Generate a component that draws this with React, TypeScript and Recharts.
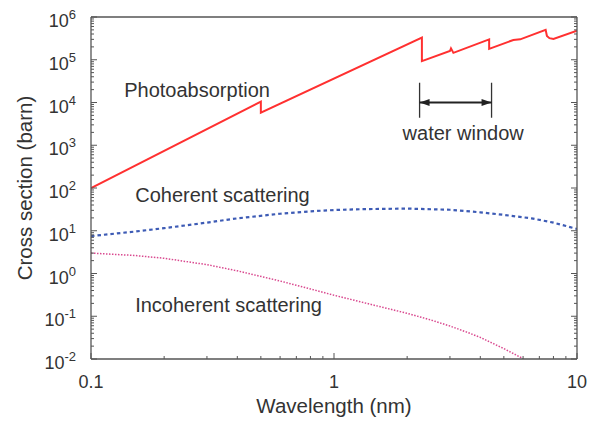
import React from 'react';
import { LineChart, Line, XAxis, YAxis, ReferenceLine, ReferenceDot, Label } from 'recharts';

const FONT = '"Liberation Sans", Arial, Helvetica, sans-serif';
const TEXT = '#333';
const AXIS = '#555';

// photoabsorption (barn) vs wavelength (nm), edges drawn as repeated x
const photoWl = [0.1, 0.5, 0.5, 2.3, 2.3, 3.0, 3.03, 3.1, 4.35, 4.35, 5.47, 5.84, 7.43, 7.52, 7.7, 8.0, 10];
const photoCs = [100, 1.05e4, 5.8e3, 3.3e5, 9.3e4, 1.6e5, 1.85e5, 1.45e5, 3.0e5, 1.8e5, 2.9e5, 3.0e5, 5.0e5, 3.6e5, 3.2e5, 3.05e5, 4.8e5];

const cohWl = [0.1, 0.15, 0.2, 0.3, 0.4, 0.6, 0.8, 1.0, 1.3, 2.0, 3.0, 4.0, 5.0, 6.5, 8.0, 10];
const cohCs = [7.5, 9.5, 11.5, 15.5, 19.5, 25, 28.5, 30.5, 32, 33, 31, 27, 23.5, 19.5, 15.5, 11];

const incWl = [0.1, 0.15, 0.2, 0.3, 0.4, 0.6, 0.8, 1.0, 1.5, 2.0, 2.5, 3.0, 3.5, 4.0, 5.0, 6.0];
const incCs = [3.0, 2.65, 2.27, 1.61, 1.155, 0.667, 0.435, 0.31, 0.175, 0.117, 0.082, 0.059, 0.043, 0.032, 0.0175, 0.0102];

const xMajor = [0.1, 1, 10];
const xMinor = [0.2, 0.3, 0.4, 0.5, 0.6, 0.7, 0.8, 0.9, 2, 3, 4, 5, 6, 7, 8, 9];
const yMajor = [1e-2, 1e-1, 1, 1e1, 1e2, 1e3, 1e4, 1e5, 1e6];
const yMinor: number[] = [];
yMajor.slice(0, -1).forEach((d) => [2, 3, 4, 5, 6, 7, 8, 9].forEach((m) => yMinor.push(d * m)));

const xTicks = [...xMajor, ...xMinor].sort((a, b) => a - b);
const yTicks = [...yMajor, ...yMinor].sort((a, b) => a - b);

const xDomain = [0.1, 10];
const yDomain = [1e-2, 1e6];

// water window marker
const windowWl = [2.25, 4.45];
const windowTop = 2.9e4;
const windowBottom = 4.4e3;
const windowArrowCs = 1e4;

const annotations = [
  { text: 'Photoabsorption', wl: 0.137, cs: 1.96e4, anchor: 'start' },
  { text: 'Coherent scattering', wl: 0.152, cs: 68, anchor: 'start' },
  { text: 'Incoherent scattering', wl: 0.152, cs: 0.183, anchor: 'start' },
  { text: 'water window', wl: 3.4, cs: 1.94e3, anchor: 'middle' },
];

const toRows = (wl: number[], cs: number[]) => wl.map((w, i) => ({ wl: w, cs: cs[i] }));
const photoData = toRows(photoWl, photoCs);
const cohData = toRows(cohWl, cohCs);
const incData = toRows(incWl, incCs);
const arrowData = toRows(windowWl, [windowArrowCs, windowArrowCs]);

const isMajor = (v: number, majors: number[]) => majors.some((m) => Math.abs(m - v) / m < 1e-6);

// inward tick line + optional label, drawn at the axis position recharts hands us
function EdgeTick(props: any) {
  const { x, y, payload, dir, showLabel } = props;
  const v = payload.value;
  const major = dir === 'up' || dir === 'down' ? isMajor(v, xMajor) : isMajor(v, yMajor);
  const len = major ? 6 : 3;
  let x2 = x;
  let y2 = y;
  if (dir === 'up') y2 = y - len;
  if (dir === 'down') y2 = y + len;
  if (dir === 'right') x2 = x + len;
  if (dir === 'left') x2 = x - len;
  let label = null;
  if (showLabel && major && dir === 'up') {
    label = (
      <text x={x} y={y + 29} textAnchor="middle" fill={TEXT} fontSize={18} fontFamily={FONT}>
        {String(v)}
      </text>
    );
  }
  if (showLabel && major && dir === 'right') {
    const exp = Math.round(Math.log10(v));
    label = (
      <text x={x - 15} y={y + 10} textAnchor="end" fill={TEXT} fontSize={18} fontFamily={FONT}>
        10
        <tspan dy={-8} fontSize={13}>{exp}</tspan>
      </text>
    );
  }
  return (
    <g>
      <line x1={x} y1={y} x2={x2} y2={y2} stroke={AXIS} strokeWidth={1} />
      {label}
    </g>
  );
}

function ArrowHead(props: any) {
  const { cx, cy, index } = props;
  const d = index === 0 ? 1 : -1;
  return (
    <polygon
      key={`ah-${index}`}
      points={`${cx},${cy} ${cx + d * 10},${cy - 3.5} ${cx + d * 10},${cy + 3.5}`}
      fill="#222"
    />
  );
}

const axisCommon = {
  type: 'number' as const,
  scale: 'log' as const,
  allowDataOverflow: true,
  interval: 0 as const,
  tickSize: 0,
  tickMargin: 0,
  tickLine: false,
  axisLine: { stroke: AXIS, strokeWidth: 1.3 },
};

export default function App() {
  return (
    <div style={{ position: 'absolute', left: 0, top: 0, background: '#fff' }}>
      <LineChart width={591} height={423} margin={{ top: 17, right: 14, bottom: 0, left: 0 }}>
        <XAxis {...axisCommon} dataKey="wl" domain={xDomain} ticks={xTicks} height={64} tick={<EdgeTick dir="up" showLabel />}>
          <Label
            content={(p: any) => (
              <text
                x={p.viewBox.x + p.viewBox.width / 2}
                y={p.viewBox.y + 54}
                textAnchor="middle"
                fill={TEXT}
                fontSize={20.5}
                fontFamily={FONT}
              >
                Wavelength (nm)
              </text>
            )}
          />
        </XAxis>
        <XAxis {...axisCommon} xAxisId="xtop" orientation="top" mirror domain={xDomain} ticks={xTicks} tick={<EdgeTick dir="down" />} />

        <YAxis {...axisCommon} dataKey="cs" domain={yDomain} ticks={yTicks} width={91} tick={<EdgeTick dir="right" showLabel />}>
          <Label
            content={(p: any) => {
              const cx = p.viewBox.x + 32;
              const cy = p.viewBox.y + p.viewBox.height / 2;
              return (
                <text
                  x={cx}
                  y={cy}
                  transform={`rotate(-90 ${cx} ${cy})`}
                  textAnchor="middle"
                  fill={TEXT}
                  fontSize={20.5}
                  fontFamily={FONT}
                >
                  Cross section (barn)
                </text>
              );
            }}
          />
        </YAxis>
        <YAxis {...axisCommon} yAxisId="yright" orientation="right" mirror domain={yDomain} ticks={yTicks} tick={<EdgeTick dir="left" />} />

        <Line data={photoData} dataKey="cs" type="linear" stroke="#ff3030" strokeWidth={2} dot={false} activeDot={false} isAnimationActive={false} />
        <Line data={cohData} dataKey="cs" type="linear" stroke="#3d5bb5" strokeWidth={2.2} strokeDasharray="3.5 3" dot={false} activeDot={false} isAnimationActive={false} />
        <Line data={incData} dataKey="cs" type="linear" stroke="#d9498f" strokeWidth={1.5} strokeDasharray="1.5 1.5" dot={false} activeDot={false} isAnimationActive={false} />

        {windowWl.map((w) => (
          <ReferenceLine key={w} segment={[{ x: w, y: windowBottom }, { x: w, y: windowTop }]} stroke="#333" strokeWidth={1.3} />
        ))}
        <Line data={arrowData} dataKey="cs" type="linear" stroke="#222" strokeWidth={2} dot={<ArrowHead />} activeDot={false} isAnimationActive={false} />

        {annotations.map((a) => (
          <ReferenceDot
            key={a.text}
            x={a.wl}
            y={a.cs}
            r={0}
            fill="none"
            stroke="none"
            label={(p: any) => (
              <text
                x={p.viewBox.x}
                y={p.viewBox.y}
                textAnchor={a.anchor}
                dominantBaseline="central"
                fill={TEXT}
                fontSize={20}
                fontFamily={FONT}
              >
                {a.text}
              </text>
            )}
          />
        ))}
      </LineChart>
    </div>
  );
}
